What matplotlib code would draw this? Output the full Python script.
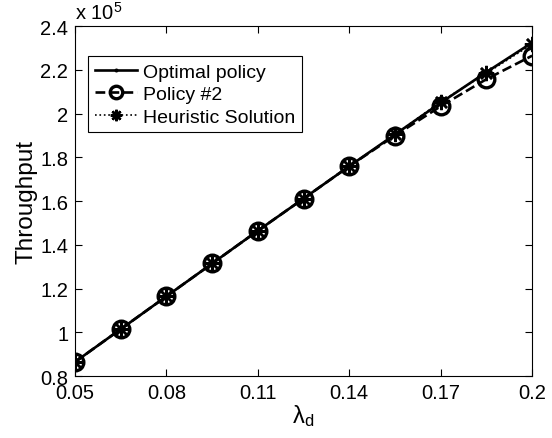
import matplotlib
matplotlib.use('Agg')
import matplotlib.pyplot as plt
import numpy as np
from matplotlib.ticker import FuncFormatter

# arrival rate lambda_d
lam = [0.05, 0.065, 0.08, 0.095, 0.11, 0.125, 0.14, 0.155, 0.17, 0.185, 0.2]

# throughput values
optimal = [86500, 101500, 116500, 131500, 146500, 161200, 176000, 190500, 205000, 219000, 232500]
policy2 = [86500, 101500, 116500, 131500, 146500, 161200, 176000, 190000, 203400, 215800, 226500]
heuristic = [86500, 101500, 116500, 131500, 146500, 161200, 176000, 190500, 205500, 218500, 231800]

xticks = [0.05, 0.08, 0.11, 0.14, 0.17, 0.2]
yticks = [80000, 100000, 120000, 140000, 160000, 180000, 200000, 220000, 240000]

plt.rcParams['font.family'] = ['Liberation Sans', 'DejaVu Sans']
plt.rcParams['mathtext.fontset'] = 'custom'
plt.rcParams['mathtext.rm'] = 'Liberation Sans'
plt.rcParams['mathtext.it'] = 'Liberation Sans:italic'
plt.rcParams['xtick.direction'] = 'in'
plt.rcParams['ytick.direction'] = 'in'
plt.rcParams['font.size'] = 14.5

fig = plt.figure(figsize=(5.52, 4.39), dpi=100)
ax = fig.add_axes([0.136, 0.141, 0.828, 0.797])

ax.plot(lam, optimal, '-', color='k', lw=1.9, marker='.', ms=5, label='Optimal policy')
ax.plot(lam, policy2, '--', color='k', lw=1.9, marker='o', ms=12, mfc='none', mew=2.4,
        label='Policy #2')
ax.plot(lam, heuristic, ':', color='k', lw=1.2, marker=(8, 2, 0), ms=11, mew=1.8,
        label='Heuristic Solution')

ax.set_xlim(0.05, 0.2)
ax.set_ylim(80000, 240000)
ax.set_xticks(xticks)
ax.set_yticks(yticks)
ax.xaxis.set_major_formatter(FuncFormatter(lambda v, p: f'{v:g}'))
ax.yaxis.set_major_formatter(FuncFormatter(lambda v, p: f'{v / 1e5:g}'))
ax.tick_params(top=True, right=True, length=5, width=0.8)
ax.tick_params(axis='x', pad=5)
ax.tick_params(axis='y', pad=5)
for s in ax.spines.values():
    s.set_linewidth(0.8)

ax.set_xlabel(r'λ$_\mathrm{d}$', fontsize=17, labelpad=0)
ax.set_ylabel('Throughput', fontsize=17.5, labelpad=2)
ax.text(0.0, 1.01, r'x 10$^5$', transform=ax.transAxes, ha='left', va='bottom')

leg = ax.legend(loc='upper left', bbox_to_anchor=(0.028, 0.914), borderaxespad=0,
                handlelength=2.2, labelspacing=0.25, borderpad=0.35, handletextpad=0.3,
                fancybox=False, framealpha=1, fontsize=14, markerscale=0.75)
leg.get_frame().set_edgecolor('k')
leg.get_frame().set_linewidth(0.8)

fig.savefig('out.png', dpi=100)
